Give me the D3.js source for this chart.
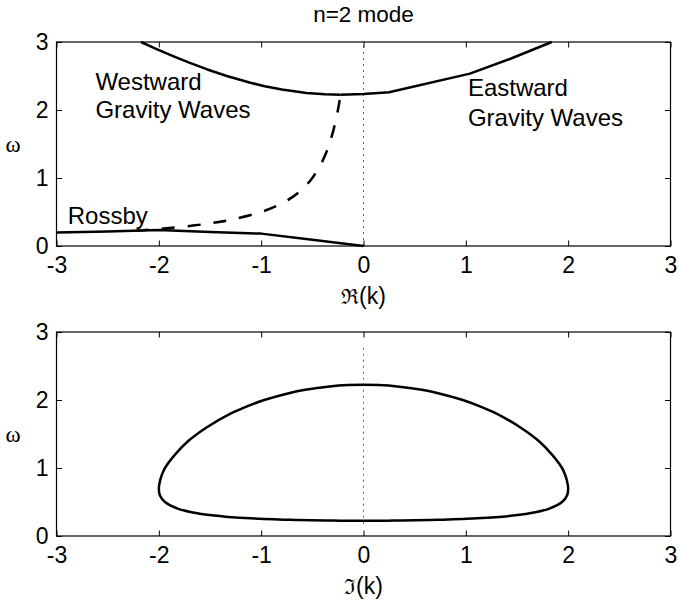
<html>
<head>
<script src="https://d3js.org/d3.v7.min.js"></script>
<style>
  body { margin: 0; background: #fff; }
  text { font-family: "Liberation Sans", Arial, sans-serif; fill: #000; }
</style>
</head>
<body>
<script>
// tick values
var xTicks = [-3, -2, -1, 0, 1, 2, 3];
var yTicks = [0, 1, 2, 3];

// top panel: omega vs Re(k)
var westGravity = [[-2.174, 3.0], [-2.027, 2.9], [-1.873, 2.8], [-1.71, 2.7], [-1.533, 2.6],
    [-1.336, 2.5], [-1.105, 2.4], [-0.966, 2.35], [-0.798, 2.3], [-0.557, 2.25],
    [-0.376, 2.23], [-0.225, 2.225]];
var eastGravity = [[-0.225, 2.225], [0, 2.236], [0.25, 2.262], [1.04, 2.535], [1.43, 2.75], [1.84, 3.0]];
var rossby = [[-3, 0.2], [-2.5, 0.215], [-2.0, 0.235], [-1.5, 0.207], [-1.0, 0.182], [-0.5, 0.092], [0, 0]];
var complexRe = [[-2.225, 0.225], [-2.0, 0.25], [-1.667, 0.3], [-1.43, 0.35], [-1.25, 0.4],
    [-1.0, 0.5], [-0.833, 0.6], [-0.714, 0.7], [-0.625, 0.8], [-0.556, 0.9], [-0.5, 1.0],
    [-0.417, 1.2], [-0.357, 1.4], [-0.313, 1.6], [-0.278, 1.8], [-0.25, 2.0], [-0.238, 2.1],
    [-0.225, 2.225]];

// bottom panel: omega vs Im(k), closed loop
var imLoop = [[0, 0.225], [0.23, 0.226], [0.37, 0.228], [0.65, 0.235], [0.78, 0.24], [0.97, 0.25],
    [1.11, 0.26], [1.22, 0.27], [1.32, 0.28], [1.46, 0.3], [1.68, 0.35], [1.81, 0.4], [1.94, 0.5],
    [1.99, 0.6], [2.0, 0.7], [1.99, 0.8], [1.97, 0.9], [1.94, 1.0], [1.84, 1.2], [1.71, 1.4],
    [1.53, 1.6], [1.30, 1.8], [1.15, 1.9], [0.97, 2.0], [0.73, 2.1], [0.57, 2.15], [0.33, 2.2],
    [0.15, 2.22], [0, 2.225],
    [-0.15, 2.22], [-0.33, 2.2], [-0.57, 2.15], [-0.73, 2.1], [-0.97, 2.0], [-1.15, 1.9],
    [-1.30, 1.8], [-1.53, 1.6], [-1.71, 1.4], [-1.84, 1.2], [-1.94, 1.0], [-1.97, 0.9],
    [-1.99, 0.8], [-2.0, 0.7], [-1.99, 0.6], [-1.94, 0.5], [-1.81, 0.4], [-1.68, 0.35],
    [-1.46, 0.3], [-1.32, 0.28], [-1.22, 0.27], [-1.11, 0.26], [-0.97, 0.25], [-0.78, 0.24],
    [-0.65, 0.235], [-0.37, 0.228], [-0.23, 0.226]];

// dotted k=0 reference lines (omega range)
var zeroLineTop = [0, 3];
var zeroLineBottom = [0.18, 2.83];

var labelsTop = [
    {text: "Westward", k: -2.62, w: 2.3},
    {text: "Gravity Waves", k: -2.62, w: 1.88},
    {text: "Eastward", k: 1.02, w: 2.21},
    {text: "Gravity Waves", k: 1.02, w: 1.77},
    {text: "Rossby", k: -2.89, w: 0.33}
];

var width = 679, height = 605;
var left = 56.5, right = 670.5;

var svg = d3.select("body").append("svg")
    .attr("width", width)
    .attr("height", height);

svg.append("text")
    .attr("x", 363.5).attr("y", 22)
    .attr("text-anchor", "middle")
    .attr("font-size", 22.5)
    .text("n=2 mode");

var x = d3.scaleLinear().domain([-3, 3]).range([left, right]);

function panel(top, bottom, sym, zeroLine) {
    var y = d3.scaleLinear().domain([0, 3]).range([bottom, top]);
    var g = svg.append("g");

    g.append("line")
        .attr("x1", x(0)).attr("x2", x(0))
        .attr("y1", y(zeroLine[0])).attr("y2", y(zeroLine[1]))
        .attr("stroke", "#666").attr("stroke-width", 1)
        .attr("stroke-dasharray", "2,4");

    var fmt = function(d) { return String(d); };
    g.append("g").attr("transform", "translate(0," + bottom + ")")
        .call(d3.axisBottom(x).tickValues(xTicks).tickFormat(fmt).tickSizeInner(-5.5).tickSizeOuter(0).tickPadding(10.5))
        .call(function(a) { a.select(".domain").remove(); a.selectAll("text").attr("font-size", 23).attr("font-family", null); });
    g.append("g").attr("transform", "translate(0," + top + ")")
        .call(d3.axisTop(x).tickValues(xTicks).tickFormat("").tickSizeInner(-5.5).tickSizeOuter(0))
        .call(function(a) { a.select(".domain").remove(); });
    g.append("g").attr("transform", "translate(" + left + ",0)")
        .call(d3.axisLeft(y).tickValues(yTicks).tickFormat(fmt).tickSizeInner(-5.5).tickSizeOuter(0).tickPadding(8))
        .call(function(a) { a.select(".domain").remove(); a.selectAll("text").attr("font-size", 23).attr("font-family", null); });
    g.append("g").attr("transform", "translate(" + right + ",0)")
        .call(d3.axisRight(y).tickValues(yTicks).tickFormat("").tickSizeInner(-5.5).tickSizeOuter(0))
        .call(function(a) { a.select(".domain").remove(); });

    g.append("rect")
        .attr("x", left).attr("y", top)
        .attr("width", right - left).attr("height", bottom - top)
        .attr("fill", "none").attr("stroke", "#000").attr("stroke-width", 1.2);

    g.append("text")
        .attr("x", 13).attr("y", (top + bottom) / 2 + 8)
        .attr("text-anchor", "middle")
        .attr("font-size", 23)
        .style("font-family", "'Liberation Serif', 'DejaVu Serif', serif")
        .text("\u03c9");

    var xl = g.append("text")
        .attr("x", x(0)).attr("y", bottom + 58)
        .attr("text-anchor", "middle")
        .attr("font-size", 23);
    xl.append("tspan").style("font-family", "'DejaVu Serif', serif").attr("font-size", 21).text(sym);
    xl.append("tspan").text("(k)");

    return {g: g, y: y};
}

var p1 = panel(42, 246, "\u211c", zeroLineTop);
var p2 = panel(332, 536, "\u2111", zeroLineBottom);

var line1 = d3.line().x(d => x(d[0])).y(d => p1.y(d[1]));
var smooth1 = d3.line().curve(d3.curveCatmullRom).x(d => x(d[0])).y(d => p1.y(d[1]));

[westGravity, eastGravity, rossby].forEach(function(s) {
    p1.g.append("path").datum(s)
        .attr("fill", "none").attr("stroke", "#000")
        .attr("stroke-width", 2.5).attr("stroke-linejoin", "round")
        .attr("d", line1);
});

p1.g.append("path").datum(complexRe)
    .attr("fill", "none").attr("stroke", "#000")
    .attr("stroke-width", 2.5)
    .attr("stroke-dasharray", "13,13")
    .attr("d", smooth1);

p1.g.selectAll(".lab").data(labelsTop).enter().append("text")
    .attr("x", d => x(d.k)).attr("y", d => p1.y(d.w))
    .attr("font-size", 24)
    .text(d => d.text);

p2.g.append("path").datum(imLoop)
    .attr("fill", "none").attr("stroke", "#000")
    .attr("stroke-width", 2.5)
    .attr("d", d3.line().curve(d3.curveCatmullRomClosed).x(d => x(d[0])).y(d => p2.y(d[1])));
</script>
</body>
</html>
